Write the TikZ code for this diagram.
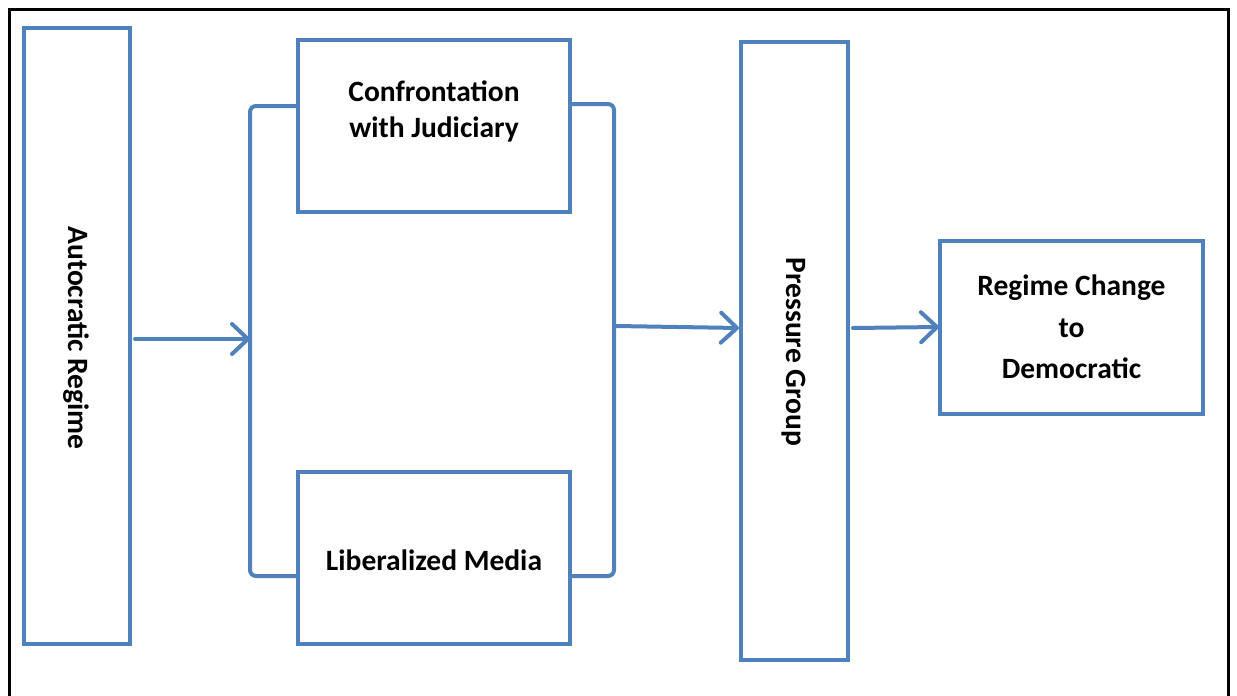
\documentclass[tikz,border=0pt]{standalone}
\usepackage{fontspec}
\setmainfont{Carlito}
\usetikzlibrary{arrows.meta}
\definecolor{officeblue}{RGB}{79,129,189}
\tikzset{
  box/.style={draw=officeblue, line width=4pt, fill=white, inner sep=0pt},
  lbl/.style={font=\bfseries\fontsize{29.5}{36}\selectfont, align=center, text=black},
  lblwide/.style={lbl, font=\bfseries\fontsize{29.5}{41.5}\selectfont},
  link/.style={draw=officeblue, line width=4pt, line cap=round,
    -{Straight Barb[length=16pt, width=30pt, line width=4pt, round]}},
  bracket/.style={draw=officeblue, line width=4pt, rounded corners=6pt},
}
\begin{document}
\begin{tikzpicture}[x=1pt, y=-1pt]
\useasboundingbox (0,0) rectangle (1237,696);
% outer frame, open at the bottom
\begin{scope}
\clip (0,0) rectangle (1237,696);
\draw[black, line width=3pt] (9,710) -- (9,9) -- (1228,9) -- (1228,710);
\end{scope}

% boxes
\node[box, minimum width=106pt, minimum height=616pt] (auto) at (77,336) {};
\node[lbl, rotate=-90] at (76,338) {Autocratic Regime};

\node[box, minimum width=272pt, minimum height=172pt] (judi) at (434,126) {};
\node[lbl] at (434,111) {Confrontation\\with Judiciary};

\node[box, minimum width=272pt, minimum height=172pt] (media) at (434,558) {};
\node[lbl] at (434,560) {Liberalized Media};

\node[box, minimum width=107pt, minimum height=618pt] (press) at (794.5,351) {};
\node[lbl, rotate=-90] at (794,352) {Pressure Group};

\node[box, minimum width=263pt, minimum height=173pt] (regime) at (1071.5,327.5) {};
\node[lblwide] at (1071.5,327) {Regime Change\\to\\Democratic};

% brackets joining the two middle boxes
\coordinate (lt) at (250,106);
\coordinate (lb) at (250,576);
\coordinate (rt) at (614,104);
\coordinate (rb) at (614,576);
\draw[bracket] (judi.west |- lt) -- (lt) -- (lb) -- (media.west |- lb);
\draw[bracket] (judi.east |- rt) -- (rt) -- (rb) -- (media.east |- rb);

% arrows
\coordinate (a1) at (250,339);
\coordinate (a2s) at (616,326);
\coordinate (a3e) at (939,327);
\draw[link] (auto.east |- a1) ++(3,0) -- (a1);
\draw[link] (a2s) -- (press.west |- 0,328);
\draw[link] (press.east |- 0,328) ++(3,0) -- (a3e);
\end{tikzpicture}
\end{document}
